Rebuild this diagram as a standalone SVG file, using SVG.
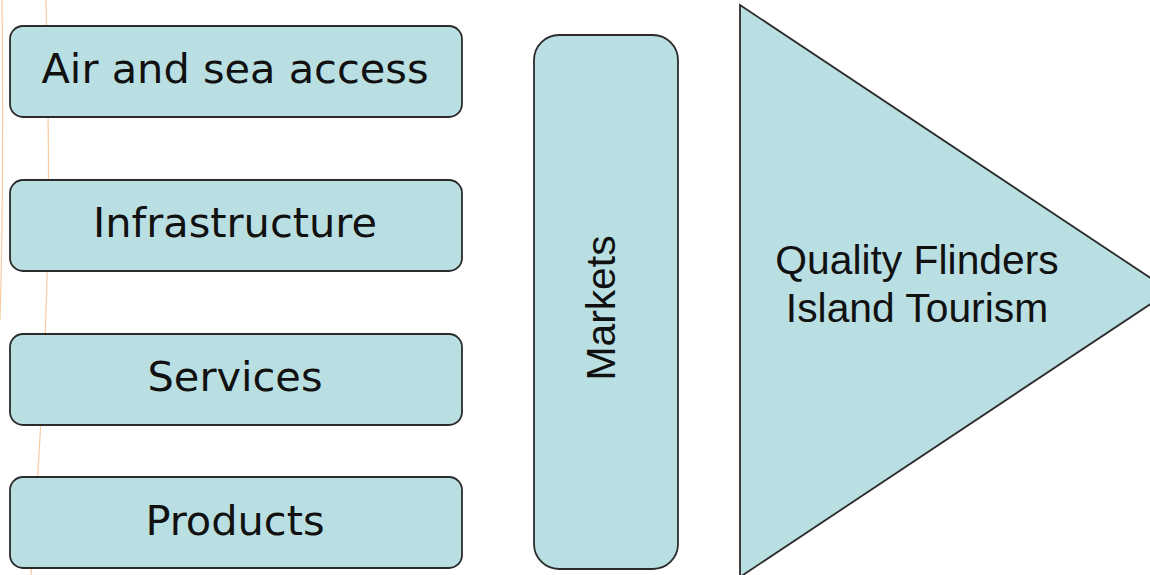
<svg xmlns="http://www.w3.org/2000/svg" width="1150" height="575" viewBox="0 0 1150 575">
  <style>
    .shape { fill: #b9dfe2; stroke: #2b2b2b; stroke-width: 1.8; }
    .lbl { font-family: "DejaVu Sans", Verdana, sans-serif; font-size: 41.5px; fill: #111; text-anchor: middle; }
    .lbl2 { font-family: "Liberation Sans", Arial, sans-serif; font-size: 40.8px; fill: #111; text-anchor: middle; }
    .guide { fill: none; stroke: #f9c9a0; stroke-width: 1.2; }
  </style>
  <rect width="1150" height="575" fill="#fff"/>
  <!-- faint background strokes on the left edge -->
  <g id="guides">
    <path class="guide" d="M46,0 C48,100 50,200 47,280 C45,350 40,450 31,575"/>
    <path class="guide" d="M2,0 C3,100 3,220 0,320"/>
  </g>
  <g id="connectors"></g>
  <g id="air-sea-access">
    <rect class="shape" x="10" y="26" width="452" height="91" rx="13"/>
    <text class="lbl" x="235" y="83">Air and sea access</text>
  </g>
  <g id="infrastructure">
    <rect class="shape" x="10" y="180" width="452" height="91" rx="13"/>
    <text class="lbl" x="235" y="237">Infrastructure</text>
  </g>
  <g id="services">
    <rect class="shape" x="10" y="334" width="452" height="91" rx="13"/>
    <text class="lbl" x="235" y="391">Services</text>
  </g>
  <g id="products">
    <rect class="shape" x="10" y="477" width="452" height="91" rx="13"/>
    <text class="lbl" x="235" y="535">Products</text>
  </g>
  <g id="markets">
    <rect class="shape" x="534" y="35" width="144" height="534" rx="25"/>
    <text class="lbl2" transform="translate(615,308) rotate(-90)" x="0" y="0">Markets</text>
  </g>
  <g id="quality-tourism">
    <polygon class="shape" points="740,5 1170,291 740,577"/>
    <text class="lbl2" x="917" y="274">Quality Flinders</text>
    <text class="lbl2" x="917" y="322">Island Tourism</text>
  </g>
</svg>
